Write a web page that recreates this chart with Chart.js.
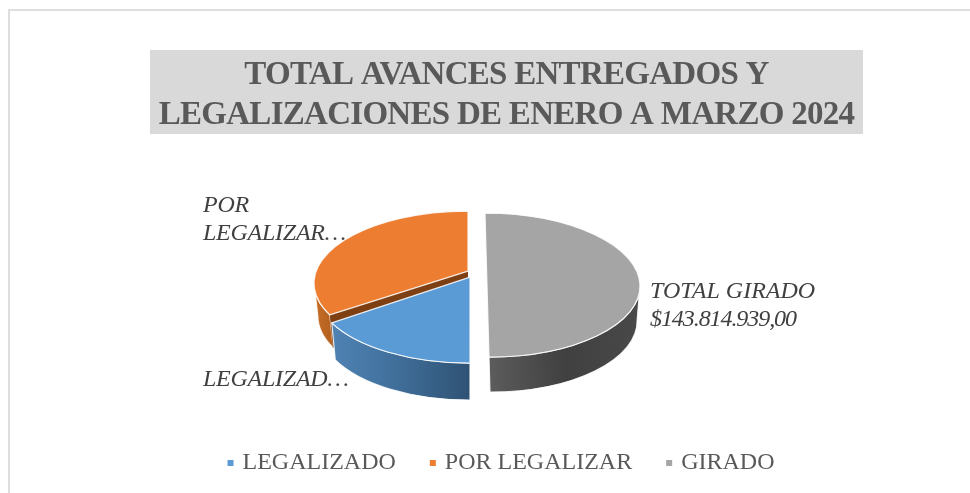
<!DOCTYPE html>
<html>
<head>
<meta charset="utf-8">
<script src="https://cdn.jsdelivr.net/npm/chart.js@4"></script>
<style>
  html, body { margin: 0; padding: 0; background: #fff; overflow: hidden; width: 970px; height: 493px; }
  #marco { position: absolute; left: 8px; top: 9px; border-top: 2px solid #dedede; border-left: 2px solid #dedede; }
  canvas { display: block; }
</style>
</head>
<body>
<div id="marco"><canvas id="grafico" width="993" height="482"></canvas></div>
<script>
// Datos
const categorias = ['LEGALIZADO', 'POR LEGALIZAR', 'GIRADO'];
const valores = [51000000, 92814939, 143814939];
const tituloLineas = ['TOTAL AVANCES ENTREGADOS Y', 'LEGALIZACIONES DE ENERO A MARZO 2024'];
const etiquetaPorLegalizar = ['POR', 'LEGALIZAR\u2026'];
const etiquetaLegalizado = ['LEGALIZAD\u2026'];
const etiquetaGirado = ['TOTAL GIRADO', '$143.814.939,00'];

// Estilos
const colores = ['#5b9bd5', '#ed7d31', '#a5a5a5'];
const ladosColor = [
  ['#4f83b4', '#3f6d98', '#2f5274'],
  ['#cc7029', '#bf6824', '#b5611f'],
  ['#5c5c5c', '#404040', '#494949']
];
const paredColor = '#7e3f12';
const inclinacion = 72 / 153;
const profundidad = [37, 33, 35];
const desplazaX = [-36.5, -38.5, -19.5];
const desplazaY = [16.5, 8.5, 10.5];
const radioExtra = [1, 1, 0];
const vertice = [-14, -12, -13];
const sesgo = [0, 0, 0.028];
const ordenDibujo = [1, 0, 2];

// Dibuja la torta en 3D a partir de los angulos calculados por Chart.js
function dibujarPorcion(ctx, arc, i) {
  const cx = arc.x + desplazaX[i];
  const cy = arc.y + desplazaY[i];
  const rx = arc.outerRadius + radioExtra[i];
  const ry = arc.outerRadius * inclinacion;
  const ini = arc.startAngle;
  const fin = arc.endAngle;
  const prof = profundidad[i];
  const rxAbajo = rx * 0.975;

  ctx.save();
  ctx.transform(1, 0, sesgo[i], 1, -sesgo[i] * cy, 0);
  ctx.strokeStyle = 'rgba(255,255,255,0.85)';
  ctx.lineWidth = 1.2;
  ctx.lineJoin = 'round';

  // Costado visible: solo la mitad inferior de la elipse
  [[0, Math.PI], [2 * Math.PI, 3 * Math.PI]].forEach(function(rango) {
    const a0 = Math.max(ini, rango[0]);
    const a1 = Math.min(fin, rango[1]);
    if (a1 <= a0) return;
    const x0 = cx + rx * Math.cos(a0);
    const x1 = cx + rx * Math.cos(a1);
    const grad = ctx.createLinearGradient(Math.min(x0, x1), 0, Math.max(x0, x1), 0);
    grad.addColorStop(0, ladosColor[i][0]);
    grad.addColorStop(0.5, ladosColor[i][1]);
    grad.addColorStop(1, ladosColor[i][2]);
    ctx.beginPath();
    ctx.ellipse(cx, cy, rx, ry, 0, a0, a1);
    ctx.ellipse(cx, cy + prof, rxAbajo, ry, 0, a1, a0, true);
    ctx.closePath();
    ctx.fillStyle = grad;
    ctx.fill();
    ctx.stroke();
  });

  // Pared interior de la porcion naranja
  if (i === 1) {
    const px = cx + rx * Math.cos(ini);
    const py = cy + ry * Math.sin(ini);
    ctx.beginPath();
    ctx.moveTo(cx, cy + vertice[i]);
    ctx.lineTo(px, py);
    ctx.lineTo(px + 3, py + prof);
    ctx.lineTo(cx, cy + vertice[i] + prof);
    ctx.closePath();
    ctx.fillStyle = paredColor;
    ctx.fill();
  }

  // Cara superior
  ctx.beginPath();
  ctx.moveTo(cx, cy + vertice[i]);
  ctx.ellipse(cx, cy, rx, ry, 0, ini, fin);
  ctx.closePath();
  ctx.fillStyle = arc.options.backgroundColor;
  ctx.fill();
  ctx.stroke();
  ctx.restore();
}

const torta3d = {
  id: 'torta3d',
  afterLayout: function(chart) {
    // La leyenda del original queda unos pixeles a la izquierda del titulo
    chart.legend.right -= 8;
  },
  beforeDraw: function(chart) {
    // El titulo original va mas apretado que la fuente disponible
    const bloque = chart.titleBlock;
    if (!bloque._apretado) {
      const dibujar = bloque.draw;
      bloque.draw = function() {
        chart.ctx.letterSpacing = '-0.72px';
        dibujar.apply(bloque, arguments);
        chart.ctx.letterSpacing = '0px';
      };
      bloque._apretado = true;
    }
    // Fondo del titulo
    chart.ctx.fillStyle = '#d9d9d9';
    chart.ctx.fillRect(140, 39, 713, 84);
  },
  beforeDatasetsDraw: function(chart) {
    const arcos = chart.getDatasetMeta(0).data;
    ordenDibujo.forEach(function(i) { dibujarPorcion(chart.ctx, arcos[i], i); });
    return false;
  },
  afterDraw: function(chart) {
    const ctx = chart.ctx;
    ctx.save();
    ctx.font = 'italic 24px "Liberation Serif"';
    ctx.fillStyle = '#404040';
    ctx.textBaseline = 'alphabetic';
    ctx.textAlign = 'left';
    ctx.fillText(etiquetaGirado[0], 640, 287);
    ctx.letterSpacing = '-0.25px';
    etiquetaPorLegalizar.forEach(function(t, k) { ctx.fillText(t, 193, 201 + k * 28); });
    etiquetaLegalizado.forEach(function(t, k) { ctx.fillText(t, 193, 375 + k * 28); });
    ctx.letterSpacing = '-1.07px';
    ctx.fillText(etiquetaGirado[1], 640, 315);
    ctx.restore();
  }
};

new Chart(document.getElementById('grafico').getContext('2d'), {
  type: 'pie',
  data: {
    labels: categorias,
    datasets: [{ data: valores, backgroundColor: colores, borderWidth: 0 }]
  },
  plugins: [torta3d],
  options: {
    responsive: false,
    animation: false,
    rotation: 180,
    radius: 153,
    layout: { padding: { bottom: 8 } },
    plugins: {
      tooltip: { enabled: false },
      title: {
        display: true,
        text: tituloLineas,
        color: '#595959',
        font: { family: '"Liberation Serif"', size: 33, weight: 'bold', lineHeight: 1.2 },
        padding: { top: 45, bottom: 0 }
      },
      legend: {
        position: 'bottom',
        labels: {
          color: '#595959',
          font: { family: '"Liberation Serif"', size: 24 },
          usePointStyle: true,
          pointStyle: 'rect',
          boxWidth: 0.01,
          boxHeight: 6,
          padding: 37
        }
      }
    }
  }
});
</script>
</body>
</html>
